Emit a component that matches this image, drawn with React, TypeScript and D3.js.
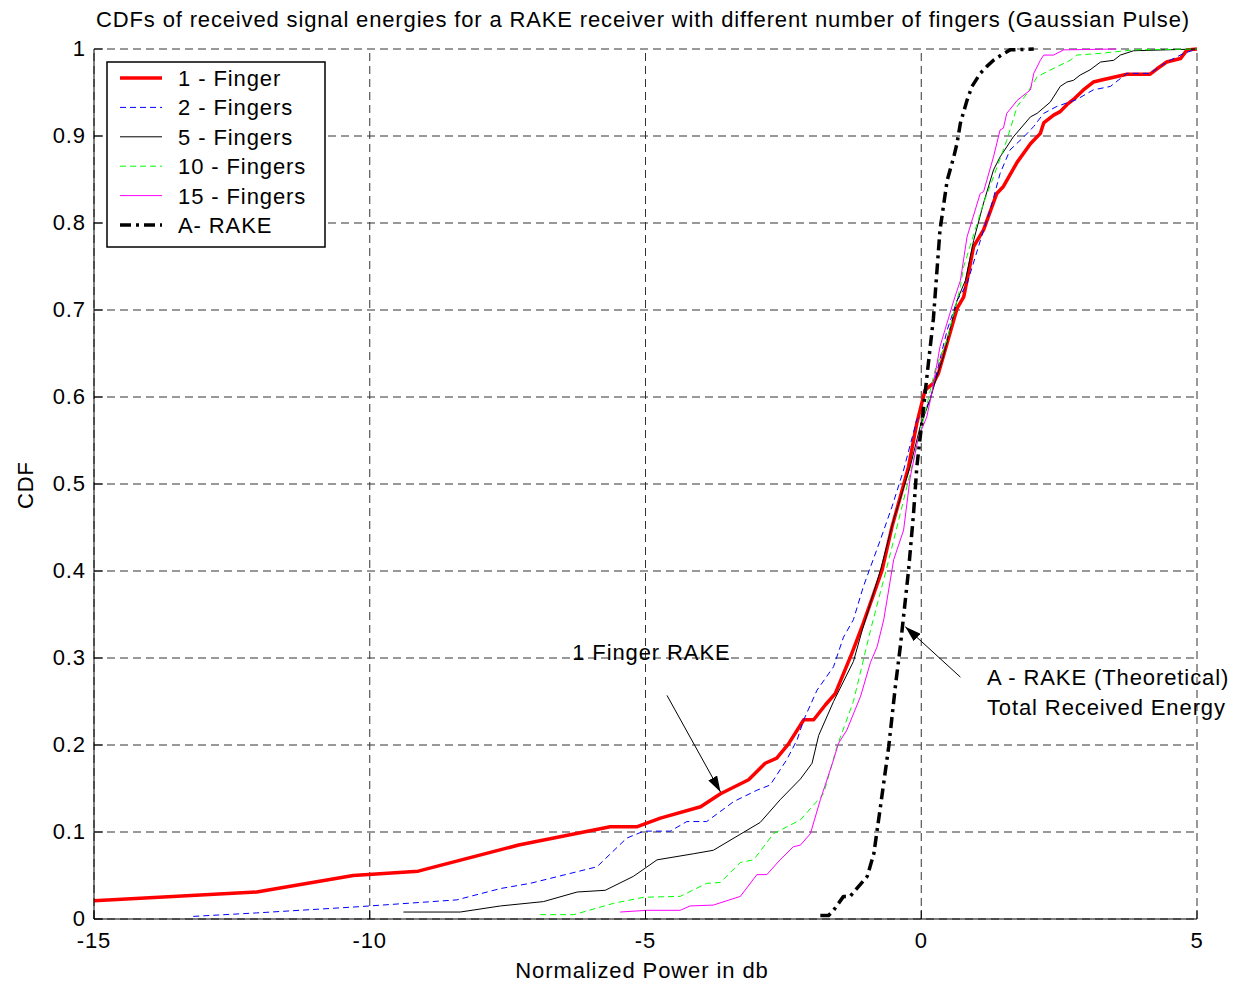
import React from 'react';
import * as d3 from 'd3';

// values: [Normalized power (dB), CDF]
const finger1: [number, number][] = [
  [-15, 0.021], [-12.05, 0.031], [-10.3, 0.05], [-9.12, 0.055], [-7.3, 0.085],
  [-5.64, 0.106], [-5.16, 0.106], [-4.73, 0.116], [-4.0, 0.129], [-3.64, 0.144],
  [-3.13, 0.16], [-2.83, 0.179], [-2.62, 0.185], [-2.41, 0.201], [-2.13, 0.229],
  [-1.95, 0.229], [-1.74, 0.246], [-1.56, 0.259], [-1.26, 0.305], [-1.05, 0.34],
  [-0.86, 0.374], [-0.71, 0.401], [-0.53, 0.451], [-0.38, 0.485], [-0.23, 0.52],
  [-0.08, 0.57], [0.01, 0.593], [0.07, 0.608], [0.22, 0.616], [0.31, 0.627],
  [0.47, 0.662], [0.65, 0.702], [0.77, 0.715], [0.83, 0.734], [0.95, 0.773],
  [1.13, 0.792], [1.37, 0.834], [1.49, 0.842], [1.74, 0.87], [1.98, 0.891],
  [2.16, 0.903], [2.22, 0.915], [2.4, 0.924], [2.52, 0.928], [2.64, 0.936],
  [2.76, 0.942], [2.94, 0.953], [3.12, 0.962], [3.25, 0.964], [3.73, 0.971],
  [4.15, 0.971], [4.27, 0.977], [4.45, 0.985], [4.7, 0.989], [4.82, 0.999], [5, 1],
];

const finger2: [number, number][] = [
  [-13.2, 0.003], [-12.05, 0.007], [-10.23, 0.014], [-8.42, 0.022], [-7.63, 0.035],
  [-7.09, 0.041], [-5.88, 0.06], [-5.34, 0.093], [-5.03, 0.101], [-4.55, 0.101],
  [-4.25, 0.112], [-3.89, 0.112], [-3.4, 0.135], [-2.98, 0.148], [-2.74, 0.154],
  [-2.44, 0.183], [-2.25, 0.206], [-2.13, 0.229], [-1.89, 0.263], [-1.59, 0.29],
  [-1.41, 0.324], [-1.23, 0.344], [-1.05, 0.382], [-0.74, 0.436], [-0.53, 0.474],
  [-0.32, 0.516], [-0.08, 0.574], [0.04, 0.581], [0.16, 0.597], [0.25, 0.62],
  [0.47, 0.677], [0.65, 0.711], [0.83, 0.73], [1.13, 0.792], [1.25, 0.815],
  [1.43, 0.857], [1.61, 0.884], [1.86, 0.899], [2.04, 0.911], [2.22, 0.926],
  [2.46, 0.934], [2.82, 0.942], [3.12, 0.953], [3.43, 0.957], [3.73, 0.972],
  [4.15, 0.972], [4.45, 0.985], [4.76, 0.995], [5, 1],
];

const finger5: [number, number][] = [
  [-9.39, 0.008], [-8.36, 0.008], [-7.63, 0.015], [-6.85, 0.02], [-6.24, 0.031],
  [-5.73, 0.033], [-5.22, 0.049], [-4.79, 0.068], [-4.13, 0.075], [-3.77, 0.079],
  [-2.92, 0.111], [-2.56, 0.137], [-2.19, 0.161], [-1.98, 0.179], [-1.86, 0.211],
  [-1.59, 0.25], [-1.23, 0.296], [-1.07, 0.332], [-0.74, 0.401], [-0.5, 0.459],
  [-0.2, 0.52], [-0.02, 0.566], [0.16, 0.597], [0.28, 0.623], [0.4, 0.646],
  [0.65, 0.711], [0.8, 0.734], [0.95, 0.78], [1.13, 0.823], [1.31, 0.861],
  [1.43, 0.876], [1.67, 0.899], [1.98, 0.922], [2.1, 0.926], [2.34, 0.939],
  [2.52, 0.957], [2.64, 0.962], [2.76, 0.964], [2.88, 0.97], [3.06, 0.976],
  [3.25, 0.985], [3.49, 0.987], [3.61, 0.993], [3.85, 0.998], [5, 1],
];

const finger10: [number, number][] = [
  [-6.91, 0.005], [-6.3, 0.005], [-5.58, 0.018], [-5.03, 0.025], [-4.37, 0.026],
  [-3.89, 0.041], [-3.64, 0.042], [-3.28, 0.065], [-3.04, 0.068], [-2.68, 0.098],
  [-2.19, 0.114], [-1.77, 0.144], [-1.53, 0.198], [-1.23, 0.25], [-0.92, 0.332],
  [-0.62, 0.405], [-0.38, 0.466], [-0.14, 0.528], [0.04, 0.574], [0.25, 0.631],
  [0.47, 0.666], [0.71, 0.727], [0.77, 0.75], [1.13, 0.823], [1.31, 0.853],
  [1.55, 0.895], [1.74, 0.934], [1.92, 0.949], [2.1, 0.968], [2.28, 0.974],
  [2.7, 0.987], [2.82, 0.993], [3.25, 0.995], [3.85, 0.999], [5, 1],
];

const finger15: [number, number][] = [
  [-5.46, 0.008], [-4.97, 0.01], [-4.37, 0.01], [-4.19, 0.015], [-3.77, 0.016],
  [-3.28, 0.026], [-2.98, 0.051], [-2.8, 0.051], [-2.56, 0.068], [-2.32, 0.083],
  [-2.19, 0.085], [-2.01, 0.098], [-1.83, 0.137], [-1.59, 0.183], [-1.5, 0.202],
  [-1.35, 0.217], [-1.1, 0.256], [-0.92, 0.295], [-0.8, 0.313], [-0.68, 0.344],
  [-0.5, 0.413], [-0.32, 0.447], [-0.2, 0.508], [-0.05, 0.554], [0.1, 0.577],
  [0.19, 0.604], [0.34, 0.658], [0.59, 0.711], [0.71, 0.734], [0.83, 0.784],
  [1.07, 0.834], [1.13, 0.836], [1.31, 0.876], [1.43, 0.907], [1.49, 0.909],
  [1.55, 0.926], [1.74, 0.941], [1.98, 0.953], [2.04, 0.972], [2.16, 0.987],
  [2.22, 0.993], [2.4, 0.993], [2.58, 0.999], [3.54, 1.0],
];

const aRake: [number, number][] = [
  [-1.83, 0.004], [-1.68, 0.004], [-1.59, 0.01], [-1.41, 0.026], [-1.29, 0.026],
  [-0.98, 0.049], [-0.86, 0.075], [-0.74, 0.129], [-0.59, 0.198], [-0.47, 0.267],
  [-0.38, 0.313], [-0.23, 0.401], [-0.14, 0.466], [-0.08, 0.52], [0.01, 0.57],
  [0.13, 0.639], [0.22, 0.69], [0.34, 0.792], [0.47, 0.849], [0.59, 0.876],
  [0.65, 0.892], [0.71, 0.915], [0.83, 0.941], [0.92, 0.957], [1.07, 0.972],
  [1.19, 0.98], [1.31, 0.987], [1.45, 0.993], [1.61, 0.999], [2.04, 1.0],
];

const xTicks = [-15, -10, -5, 0, 5];
const yTicks = [0, 0.1, 0.2, 0.3, 0.4, 0.5, 0.6, 0.7, 0.8, 0.9, 1];

const series = [
  { name: '1 - Finger', data: finger1, color: '#ff0000', width: 3.5, dash: '' },
  { name: '2 - Fingers', data: finger2, color: '#0000ff', width: 1, dash: '6,4' },
  { name: '5 - Fingers', data: finger5, color: '#000000', width: 1, dash: '' },
  { name: '10 - Fingers', data: finger10, color: '#00ff00', width: 1, dash: '6,4' },
  { name: '15 - Fingers', data: finger15, color: '#ff00ff', width: 1, dash: '' },
  { name: 'A- RAKE', data: aRake, color: '#000000', width: 3.5, dash: '11,5,3,5' },
];

// annotation arrows: [from, to] in data units
const fingerArrow: [number, number][] = [[-4.61, 0.257], [-3.64, 0.146]];
const rakeArrow: [number, number][] = [[0.71, 0.278], [-0.29, 0.336]];

const W = 1233;
const H = 982;
const FONT = '"Liberation Sans", Arial, sans-serif';
const txt = { fontSize: 22, fontFamily: FONT, fill: '#000', letterSpacing: 0.9 };

export default function App() {
  const x = d3.scaleLinear().domain([-15, 5]).range([94, 1197]);
  const y = d3.scaleLinear().domain([0, 1]).range([919, 49]);
  const line = d3
    .line<[number, number]>()
    .x((d) => x(d[0]))
    .y((d) => y(d[1]));

  const [x0, x1] = x.range();
  const [y0, y1] = y.range();

  return (
    <div style={{ position: 'absolute', left: 0, top: 0 }}>
      <svg width={W} height={H} style={{ display: 'block', background: '#fff' }}>
        <defs>
          <marker id="arrow" viewBox="0 0 16 10" refX="16" refY="5" markerWidth="16" markerHeight="10" markerUnits="userSpaceOnUse" orient="auto">
            <path d="M0,0 L16,5 L0,10 Z" fill="#000" />
          </marker>
        </defs>

        {/* grid */}
        {xTicks.map((t) => (
          <line key={'gx' + t} x1={x(t)} x2={x(t)} y1={y0} y2={y1} stroke="#333" strokeWidth={1} strokeDasharray="8,5" />
        ))}
        {yTicks.map((t) => (
          <line key={'gy' + t} x1={x0} x2={x1} y1={y(t)} y2={y(t)} stroke="#333" strokeWidth={1} strokeDasharray="8,5" />
        ))}

        {/* series */}
        {series.map((s) => (
          <path
            key={s.name}
            d={line(s.data) || ''}
            fill="none"
            stroke={s.color}
            strokeWidth={s.width}
            strokeDasharray={s.dash || undefined}
            strokeLinejoin="round"
          />
        ))}

        {/* axes */}
        <line x1={x0} x2={x0} y1={y0} y2={y1} stroke="#000" strokeWidth={1} />
        <line x1={x0} x2={x1} y1={y0} y2={y0} stroke="#000" strokeWidth={1} />
        {yTicks.map((t) => (
          <g key={'ty' + t}>
            <line x1={x0} x2={x0 + 9} y1={y(t)} y2={y(t)} stroke="#000" />
            <text x={x0 - 8} y={y(t) + 7} textAnchor="end" {...txt}>
              {String(t)}
            </text>
          </g>
        ))}
        {xTicks.map((t) => (
          <g key={'tx' + t}>
            <line x1={x(t)} x2={x(t)} y1={y0} y2={y0 - 9} stroke="#000" />
            <text x={x(t)} y={y0 + 29} textAnchor="middle" {...txt}>
              {String(t)}
            </text>
          </g>
        ))}

        {/* titles */}
        <text x={643} y={27} textAnchor="middle" {...txt} letterSpacing={0.85}>
          CDFs of received signal energies for a RAKE receiver with different number of fingers (Gaussian Pulse)
        </text>
        <text x={642} y={978} textAnchor="middle" {...txt}>
          Normalized Power in db
        </text>
        <text transform="translate(33,485) rotate(-90)" textAnchor="middle" {...txt}>
          CDF
        </text>

        {/* annotations */}
        <text x={x(-6.33)} y={y(0.298)} {...txt}>
          1 Finger RAKE
        </text>
        <line
          x1={x(fingerArrow[0][0])}
          y1={y(fingerArrow[0][1])}
          x2={x(fingerArrow[1][0])}
          y2={y(fingerArrow[1][1])}
          stroke="#000"
          strokeWidth={1}
          markerEnd="url(#arrow)"
        />
        <text x={x(1.19)} y={y(0.269)} {...txt}>
          A - RAKE (Theoretical)
        </text>
        <text x={x(1.19)} y={y(0.234)} {...txt}>
          Total Received Energy
        </text>
        <line
          x1={x(rakeArrow[0][0])}
          y1={y(rakeArrow[0][1])}
          x2={x(rakeArrow[1][0])}
          y2={y(rakeArrow[1][1])}
          stroke="#000"
          strokeWidth={1}
          markerEnd="url(#arrow)"
        />

        {/* legend */}
        <g>
          <rect x={107} y={62} width={218} height={185} fill="#fff" stroke="#000" strokeWidth={1.5} />
          {series.map((s, i) => {
            const cy = 78 + i * 29.4;
            return (
              <g key={'lg' + s.name}>
                <line x1={120} x2={162} y1={cy} y2={cy} stroke={s.color} strokeWidth={s.width} strokeDasharray={s.dash || undefined} />
                <text x={178} y={cy + 8} {...txt}>
                  {s.name}
                </text>
              </g>
            );
          })}
        </g>
      </svg>
    </div>
  );
}
